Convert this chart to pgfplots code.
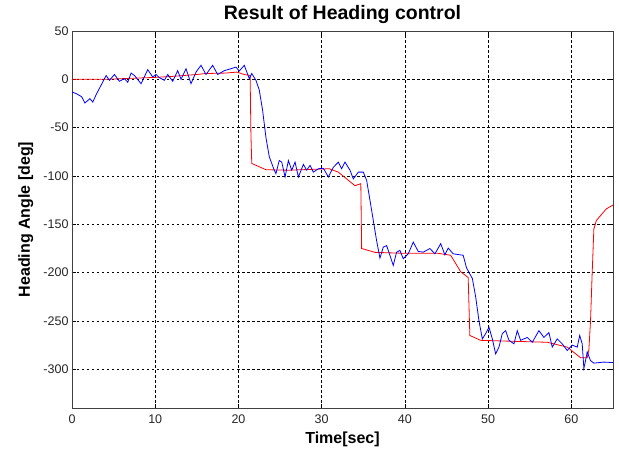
\documentclass[border=0pt]{standalone}
\usepackage{fontspec}
\setmainfont{Liberation Sans}
\usepackage{pgfplots}
\pgfplotsset{compat=1.18}

\definecolor{mblue}{RGB}{0,0,255}
\definecolor{mred}{RGB}{255,0,0}

\begin{document}
\begin{tikzpicture}[x=1pt,y=1pt]
\useasboundingbox (-72,-42) rectangle (547,408);
\begin{axis}[
  at={(0,0)}, anchor=south west,
  scale only axis,
  width=541pt, height=377pt,
  xmin=0, xmax=65,
  ymin=-340, ymax=50,
  xtick={0,10,...,60},
  ytick={-300,-250,...,50},
  grid=major,
  major grid style={black, line width=0.5pt, dash pattern=on 2.5pt off 2.5pt},
  axis line style={black!75, line width=0.8pt},
  tick style={black, line width=0.5pt},
  tick align=inside,
  major tick length=4pt,
  /pgf/number format/assume math mode=true,
  ticklabel style={font=\fontsize{12.5}{14}\selectfont, text=black!85},
  xticklabel style={yshift=-3pt},
  title={\bfseries Result of Heading control},
  title style={font=\fontsize{19.5}{22}\selectfont, at={(0.5,1)}, anchor=base, yshift=5pt},
  xlabel={\bfseries Time[sec]},
  ylabel={\bfseries Heading Angle [deg]},
  label style={font=\fontsize{16}{18}\selectfont},
  xlabel style={at={(0.5,0)}, anchor=base, yshift=-35pt},
  ylabel style={at={(0,0.5)}, anchor=base, yshift=42pt},
]
% reference heading
\addplot[mred, line width=0.8pt] coordinates {
(0,0) (4,0) (6,0.7) (10,2) (12,3) (15,5) (16,6) (18.5,6.5) (19.8,7.5) (20.7,5) (21.4,4)
(21.5,-58) (21.6,-87) (23.3,-93.5) (26,-94) (30.9,-92.5) (32,-96) (34,-110) (34.7,-108)
(34.8,-175) (36.4,-179) (40,-180) (44,-180) (45.5,-182) (46.7,-199) (47.6,-205)
(47.8,-265) (49.1,-270) (53,-271) (57.1,-272) (59.5,-277) (61.1,-288) (61.9,-288)
(62.1,-280) (62.3,-250) (62.5,-200) (62.7,-155) (63,-146) (63.6,-140) (64.2,-134) (65,-130)
};
% measured heading
\addplot[mblue, line width=0.8pt] coordinates {
(0,-13) (0.56,-15) (1.16,-18) (1.55,-24.5) (2.15,-20) (2.5,-23.5) (2.95,-15) (3.5,-6)
(4.1,4) (4.5,-1) (5.1,5) (5.7,-2) (6.3,0.7) (6.7,-3) (7.1,6.5) (7.5,4) (8.3,-4.5)
(9.1,10) (9.7,2.4) (10.1,5) (10.5,1.7) (11.1,-1) (11.5,5) (12.1,-2) (12.7,9) (13.1,0)
(13.7,11) (14.3,-4.5) (14.9,7.5) (15.5,14.5) (16.1,5) (16.9,14.5) (17.5,5) (18.3,9)
(19.1,11) (19.7,12.7) (20.1,8.6) (20.7,14.5) (21.3,0.7) (21.6,6) (22.1,-1) (22.5,-11)
(22.9,-32) (23.3,-60) (23.7,-80) (24.3,-94) (24.5,-97.6) (24.9,-84) (25.2,-85.6)
(25.6,-101) (26,-84) (26.4,-94) (26.8,-85.6) (27.2,-101) (27.8,-88) (28.2,-94) (28.6,-89)
(29,-96) (29.6,-92.5) (30.2,-92) (30.8,-101) (31.4,-91) (32,-85.6) (32.4,-92.5)
(32.8,-85.6) (33.4,-94) (33.8,-103) (34.4,-96) (35,-96) (35.4,-104.5) (35.8,-125)
(36.2,-146) (36.6,-167) (37,-185) (37.4,-173.6) (37.8,-172) (38.6,-192.5) (39,-178.8)
(39.4,-177) (39.8,-185.6) (40.4,-180.5) (41,-168.4) (41.6,-178) (42.2,-178.8) (43,-175)
(43.6,-180.5) (44.3,-170) (44.8,-181.5) (45.2,-174.6) (45.8,-180.5) (46.6,-181.5)
(47,-182) (47.4,-195) (48.1,-206) (48.5,-225) (48.9,-250) (49.3,-268.5) (49.7,-263)
(50.1,-256.5) (50.5,-268.5) (50.9,-284) (51.3,-277) (51.7,-263) (52.1,-260) (52.5,-270)
(53.1,-273.6) (53.5,-260) (53.9,-270) (54.7,-267) (55.3,-272) (56.1,-260) (56.7,-267)
(57.3,-262) (57.7,-277) (58.3,-268.5) (58.9,-273.6) (59.5,-280.5) (60.1,-275)
(60.7,-277) (61,-265) (61.3,-273.6) (61.5,-299) (61.7,-291) (61.9,-282) (62.3,-291)
(62.7,-293.6) (63.9,-292.5) (65,-293)
};
\end{axis}
\end{tikzpicture}
\end{document}
